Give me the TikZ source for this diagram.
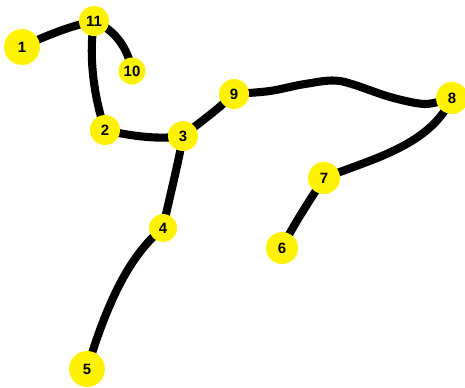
\documentclass[tikz,border=0pt]{standalone}
\usepackage{fontspec}
\setmainfont{Liberation Sans}
\usetikzlibrary{backgrounds}
\tikzset{
  vertex/.style={circle, fill=yellow, inner sep=0pt, minimum size=0.6cm,
    font=\bfseries\fontsize{8.5}{9}\selectfont},
  link/.style={line width=4.6pt, line cap=round, line join=round}
}
\begin{document}
\begin{tikzpicture}[x=0.02cm, y=-0.02cm]
    \useasboundingbox (0,0) rectangle (465,387);
    % stops
    \node[vertex, minimum size=0.72cm] (n1) at (22,47) {1};
    \node[vertex] (n11) at (94,21) {11};
    \node[vertex, minimum size=0.54cm] (n10) at (132,71) {10};
    \node[vertex] (n2) at (105,130) {2};
    \node[vertex] (n3) at (183,136) {3};
    \node[vertex, minimum size=0.56cm] (n4) at (163,228) {4};
    \node[vertex, minimum size=0.72cm] (n5) at (87,369) {5};
    \node[vertex, minimum size=0.64cm] (n6) at (282,248) {6};
    \node[vertex, minimum size=0.64cm] (n7) at (324,178) {7};
    \node[vertex, minimum size=0.64cm] (n8) at (452,98) {8};
    \node[vertex] (n9) at (234,94) {9};
    % links
    \begin{scope}[on background layer]
        \draw[link] (n1.center) .. controls (45,36) and (70,26) .. (n11.center);
        \draw[link] (n11.center) .. controls (115,30) and (128,48) .. (n10.center);
        \draw[link] (n11.center) .. controls (88,60) and (95,100) .. (n2.center);
        \draw[link] (n2.center) .. controls (130,136) and (160,140) .. (n3.center);
        \draw[link] (n3.center) .. controls (200,122) and (215,112) .. (n9.center);
        \draw[link] (n3.center) .. controls (178,165) and (170,195) .. (n4.center);
        \draw[link] (n4.center) .. controls (130,255) and (108,300) .. (n5.center);
        \draw[link] plot[smooth] coordinates {(n9) (270,91) (305,84) (340,81) (390,97) (425,104) (n8)};
        \draw[link] (n8.center) .. controls (430,145) and (375,158) .. (n7.center);
        \draw[link] (n7.center) .. controls (310,200) and (295,222) .. (n6.center);
    \end{scope}
\end{tikzpicture}
\end{document}
